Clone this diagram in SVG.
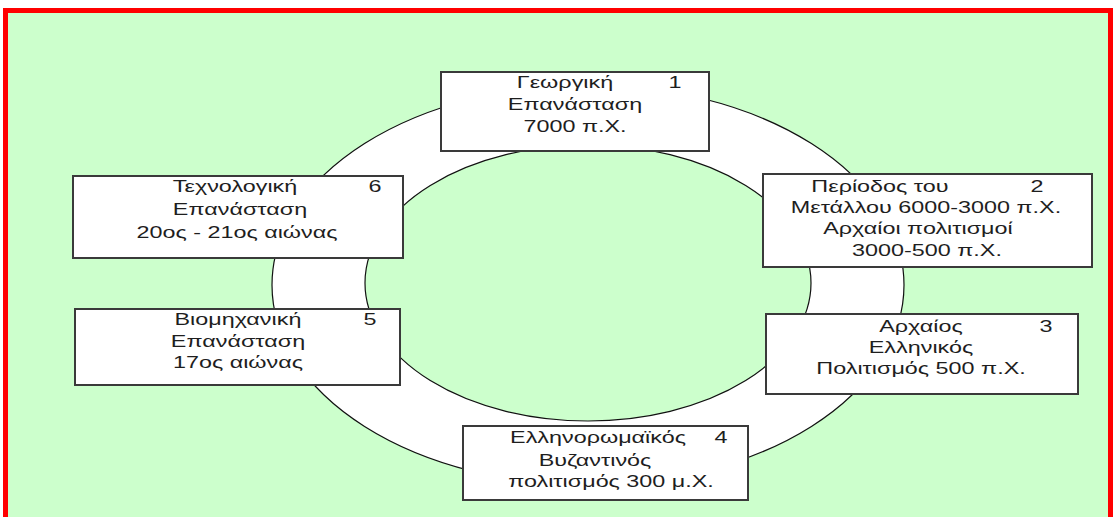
<svg xmlns="http://www.w3.org/2000/svg" width="1116" height="517" viewBox="0 0 1116 517">
<style>
.box{fill:#fff;stroke:#3a3a3a;stroke-width:2}
.t{font-family:"Liberation Sans",Arial,sans-serif;font-size:16px;fill:#1e1e1e;text-anchor:middle}
.ring{stroke:#111;stroke-width:1.2}
</style>
<rect x="0" y="0" width="1116" height="517" fill="#fff"/>
<rect x="5.5" y="10.5" width="1105" height="520" fill="#CCFFCC" stroke="#FF0000" stroke-width="5"/>
<g id="connectors">
<ellipse class="ring" cx="588" cy="285" rx="316" ry="200" fill="#fff"/>
<ellipse class="ring" cx="588" cy="283" rx="223" ry="138" fill="#CCFFCC"/>
</g>
<g id="node1">
<rect class="box" x="441" y="72" width="268" height="79"/>
<text class="t" transform="translate(0 88) scale(1.46 1)"><tspan x="387">Γεωργική</tspan><tspan x="462.3">1</tspan></text>
<text class="t" transform="translate(575 110) scale(1.46 1)">Επανάσταση</text>
<text class="t" transform="translate(575 132) scale(1.46 1)">7000 π.Χ.</text>
</g>
<g id="node2">
<rect class="box" x="763" y="174" width="329" height="93"/>
<text class="t" transform="translate(0 192) scale(1.46 1)"><tspan x="602.7">Περίοδος του</tspan><tspan x="710.3">2</tspan></text>
<text class="t" transform="translate(926 213) scale(1.46 1)">Μετάλλου 6000-3000 π.Χ.</text>
<text class="t" transform="translate(918 234) scale(1.46 1)">Αρχαίοι πολιτισμοί</text>
<text class="t" transform="translate(927 256) scale(1.46 1)">3000-500 π.Χ.</text>
</g>
<g id="node3">
<rect class="box" x="766" y="314" width="312" height="80"/>
<text class="t" transform="translate(0 332) scale(1.46 1)"><tspan x="630.8">Αρχαίος</tspan><tspan x="716.4">3</tspan></text>
<text class="t" transform="translate(921 353) scale(1.46 1)">Ελληνικός</text>
<text class="t" transform="translate(921 374) scale(1.46 1)">Πολιτισμός 500 π.Χ.</text>
</g>
<g id="node4">
<rect class="box" x="463" y="426" width="285" height="74"/>
<text class="t" transform="translate(0 443) scale(1.46 1)"><tspan x="409.6">Ελληνορωμαϊκός</tspan><tspan x="493.8">4</tspan></text>
<text class="t" transform="translate(595 466) scale(1.46 1)">Βυζαντινός</text>
<text class="t" transform="translate(611 487) scale(1.46 1)">πολιτισμός 300 μ.Χ.</text>
</g>
<g id="node5">
<rect class="box" x="75" y="309" width="325" height="76"/>
<text class="t" transform="translate(0 325) scale(1.46 1)"><tspan x="163">Βιομηχανική</tspan><tspan x="253.4">5</tspan></text>
<text class="t" transform="translate(238 347) scale(1.46 1)">Επανάσταση</text>
<text class="t" transform="translate(238 368) scale(1.46 1)">17ος αιώνας</text>
</g>
<g id="node6">
<rect class="box" x="73" y="176" width="330" height="82"/>
<text class="t" transform="translate(0 192) scale(1.46 1)"><tspan x="161">Τεχνολογική</tspan><tspan x="256.8">6</tspan></text>
<text class="t" transform="translate(240 215) scale(1.46 1)">Επανάσταση</text>
<text class="t" transform="translate(237 238) scale(1.46 1)">20ος - 21ος αιώνας</text>
</g>
</svg>
